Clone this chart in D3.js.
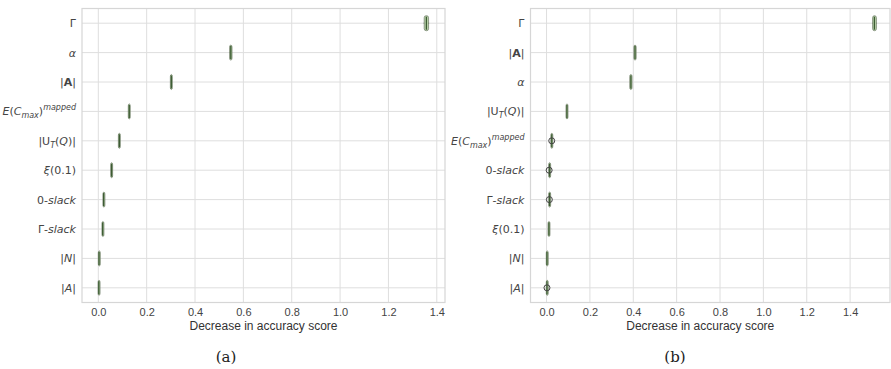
<!DOCTYPE html>
<html>
<head>
<meta charset="utf-8">
<script src="https://cdn.jsdelivr.net/npm/d3@7"></script>
<style>
  body { margin: 0; background: #fff; }
  svg { display: block; }
  .tick text { font-family: "Liberation Sans", Arial, sans-serif; font-size: 11px; fill: #444; }
</style>
</head>
<body>
<svg id="chart" width="891" height="369"></svg>
<script>
// ---- data ----
// panel (a)
const categoriesA = ['Gamma', 'alpha', 'Abold', 'Ecmax', 'UT', 'xi', 'slack0', 'slackGamma', 'N', 'A']
const q1A     = [1.350, 0.545, 0.300, 0.126, 0.085, 0.053, 0.021, 0.017, 0.002, 0.001]
const medianA = [1.357, 0.548, 0.302, 0.128, 0.087, 0.055, 0.022, 0.018, 0.003, 0.002]
const q3A     = [1.364, 0.551, 0.304, 0.130, 0.089, 0.057, 0.023, 0.019, 0.004, 0.003]
const loA     = [1.346, 0.543, 0.299, 0.125, 0.084, 0.052, 0.020, 0.016, 0.001, 0.000]
const hiA     = [1.368, 0.553, 0.305, 0.131, 0.090, 0.058, 0.024, 0.020, 0.005, 0.004]
const outliersA = [[], [], [], [], [], [], [], [], [], []]

// panel (b)
const categoriesB = ['Gamma', 'Abold', 'alpha', 'UT', 'Ecmax', 'slack0', 'slackGamma', 'xi', 'N', 'A']
const q1B     = [1.506, 0.405, 0.386, 0.092, 0.022, 0.012, 0.012, 0.009, 0.001, 0.001]
const medianB = [1.512, 0.408, 0.389, 0.094, 0.024, 0.014, 0.014, 0.011, 0.002, 0.002]
const q3B     = [1.519, 0.411, 0.392, 0.096, 0.026, 0.016, 0.016, 0.013, 0.003, 0.003]
const loB     = [1.503, 0.404, 0.385, 0.091, 0.020, 0.010, 0.011, 0.008, 0.000, 0.000]
const hiB     = [1.522, 0.412, 0.393, 0.097, 0.028, 0.018, 0.018, 0.014, 0.004, 0.004]
const outliersB = [[], [], [], [], [0.024], [0.012], [0.013], [], [], [0.002]]

const xTicks = [0.0, 0.2, 0.4, 0.6, 0.8, 1.0, 1.2, 1.4]
const xLabel = 'Decrease in accuracy score'
const captions = ['(a)', '(b)']

// how each feature name is typeset (mathtext-like pieces)
const labelParts = {
  Gamma:      [{ t: 'Γ' }],
  alpha:      [{ t: 'α', i: true }],
  Abold:      [{ t: '|' }, { t: 'A', b: true }, { t: '|' }],
  Ecmax:      [{ t: 'E', i: true }, { t: '(' }, { t: 'C', i: true }, { t: 'max', i: true, sub: true },
               { t: ')' }, { t: 'mapped', i: true, sup: true }],
  UT:         [{ t: '|U' }, { t: 'T', i: true, sub: true }, { t: '(' }, { t: 'Q', i: true }, { t: ')|' }],
  xi:         [{ t: 'ξ', i: true }, { t: '(0.1)' }],
  slack0:     [{ t: '0-' }, { t: 'slack', i: true }],
  slackGamma: [{ t: 'Γ-' }, { t: 'slack', i: true }],
  N:          [{ t: '|' }, { t: 'N', i: true }, { t: '|' }],
  A:          [{ t: '|' }, { t: 'A', i: true }, { t: '|' }]
}

const svg = d3.select('#chart')

function drawPanel(p) {

  let g = svg.append('g')

  let x = d3.scaleLinear().domain(p.domain).range([p.left, p.right])
  let y = d3.scaleBand().domain(p.cats).range([p.top, p.bottom]).padding(0)

  // grid
  g.selectAll('line.vgrid').data(xTicks).join('line')
    .attr('class', 'vgrid')
    .attr('x1', d => x(d)).attr('x2', d => x(d))
    .attr('y1', p.top).attr('y2', p.bottom)
    .style('stroke', '#dedede').style('stroke-width', 1)

  g.selectAll('line.hgrid').data(p.cats).join('line')
    .attr('class', 'hgrid')
    .attr('x1', p.left).attr('x2', p.right)
    .attr('y1', d => y(d) + y.bandwidth() / 2).attr('y2', d => y(d) + y.bandwidth() / 2)
    .style('stroke', '#dedede').style('stroke-width', 1)

  // frame
  g.append('rect')
    .attr('x', p.left).attr('y', p.top)
    .attr('width', p.right - p.left).attr('height', p.bottom - p.top)
    .style('fill', 'none').style('stroke', '#d6d6d6').style('stroke-width', 1.2)

  // x axis (ticks text only)
  let xAxis = g.append('g')
    .attr('transform', 'translate(0,' + p.bottom + ')')
    .call(d3.axisBottom(x).tickValues(xTicks).tickFormat(d3.format('.1f')).tickSize(0).tickPadding(6))
  xAxis.select('.domain').remove()

  g.append('text')
    .attr('x', (p.left + p.right) / 2 + p.labelShift)
    .attr('y', p.bottom + 27)
    .attr('text-anchor', 'middle')
    .style('font-family', '"Liberation Sans", Arial, sans-serif')
    .style('font-size', '12px')
    .style('fill', '#333')
    .text(xLabel)

  // y labels
  p.cats.forEach(function (c) {
    let t = g.append('text')
      .attr('x', p.left - 6)
      .attr('y', y(c) + y.bandwidth() / 2 + 4)
      .attr('text-anchor', 'end')
      .style('font-family', '"DejaVu Sans", sans-serif')
      .style('font-size', '11px')
      .style('fill', '#444')
    labelParts[c].forEach(function (part) {
      let s = t.append('tspan').text(part.t)
      if (part.i) s.style('font-style', 'oblique')
      if (part.b) s.style('font-weight', 'bold')
      if (part.sub) s.attr('dy', 3).style('font-size', '8px')
      if (part.sup) s.attr('dy', -5).style('font-size', '8px')
      if (part.sub || part.sup) {
        // back to baseline for next piece
        s.attr('data-shift', part.sub ? -3 : 5)
      }
    })
    // fix baseline after sub/sup
    t.selectAll('tspan').each(function (d, i, nodes) {
      let prev = i > 0 ? d3.select(nodes[i - 1]).attr('data-shift') : null
      if (prev != null && d3.select(this).attr('dy') == null) d3.select(this).attr('dy', prev)
    })
  })

  // boxes
  let bh = 15
  p.cats.forEach(function (c, i) {
    let cy = y(c) + y.bandwidth() / 2
    let bx = g.append('g')

    bx.append('line')
      .attr('x1', x(p.lo[i])).attr('x2', x(p.q1[i]))
      .attr('y1', cy).attr('y2', cy)
      .style('stroke', '#555').style('stroke-width', 1)
    bx.append('line')
      .attr('x1', x(p.q3[i])).attr('x2', x(p.hi[i]))
      .attr('y1', cy).attr('y2', cy)
      .style('stroke', '#555').style('stroke-width', 1)

    bx.append('rect')
      .attr('x', x(p.q1[i]) - 0.5).attr('y', cy - bh / 2)
      .attr('width', Math.max(x(p.q3[i]) - x(p.q1[i]), 1) + 1).attr('height', bh)
      .attr('rx', 2)
      .style('fill', '#b9d2aa').style('stroke', '#6d7a66').style('stroke-width', 0.7)

    bx.append('line')
      .attr('x1', x(p.median[i])).attr('x2', x(p.median[i]))
      .attr('y1', cy - bh / 2 + 1).attr('y2', cy + bh / 2 - 1)
      .style('stroke', '#3d5c33').style('stroke-width', 1.3)

    p.outliers[i].forEach(function (o) {
      bx.append('circle')
        .attr('cx', x(o)).attr('cy', cy).attr('r', 3)
        .style('fill', 'none').style('stroke', '#444').style('stroke-width', 1)
    })
  })

  // caption
  svg.append('text')
    .attr('x', p.captionX)
    .attr('y', 362)
    .attr('text-anchor', 'middle')
    .style('font-family', '"DejaVu Serif", "Liberation Serif", serif')
    .style('font-size', '15px')
    .style('fill', '#222')
    .text(p.caption)
}

drawPanel({
  cats: categoriesA, q1: q1A, median: medianA, q3: q3A, lo: loA, hi: hiA, outliers: outliersA,
  domain: [-0.0675, 1.434], left: 82, right: 445, top: 8.5, bottom: 302.5,
  labelShift: 0, caption: captions[0], captionX: 226
})

drawPanel({
  cats: categoriesB, q1: q1B, median: medianB, q3: q3B, lo: loB, hi: hiB, outliers: outliersB,
  domain: [-0.074, 1.584], left: 530.5, right: 890, top: 8.5, bottom: 302.5,
  labelShift: -10, caption: captions[1], captionX: 675
})
</script>
</body>
</html>
